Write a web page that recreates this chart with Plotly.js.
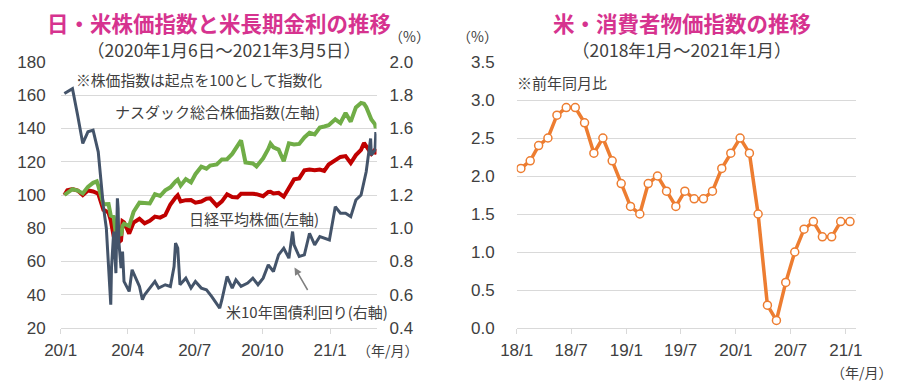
<!DOCTYPE html>
<html>
<head>
<meta charset="utf-8">
<script src="https://cdn.plot.ly/plotly-3.0.1.min.js"></script>
<style>
html,body{margin:0;padding:0;background:#fff;}
#chart{width:900px;height:390px;}
</style>
</head>
<body>
<div id="chart"></div>
<script>
// ---- Left chart data ----
const stockDates = ['2020-01-06','2020-01-10','2020-01-17','2020-01-24','2020-01-31','2020-02-07','2020-02-14','2020-02-19','2020-02-21','2020-02-28','2020-03-06','2020-03-09','2020-03-13','2020-03-16','2020-03-19','2020-03-23','2020-03-25','2020-03-27','2020-04-03','2020-04-09','2020-04-17','2020-04-24','2020-05-01','2020-05-08','2020-05-15','2020-05-22','2020-05-29','2020-06-05','2020-06-08','2020-06-12','2020-06-19','2020-06-26','2020-07-02','2020-07-10','2020-07-17','2020-07-22','2020-07-31','2020-08-07','2020-08-14','2020-08-21','2020-08-28','2020-09-02','2020-09-08','2020-09-11','2020-09-18','2020-09-23','2020-10-02','2020-10-09','2020-10-12','2020-10-16','2020-10-23','2020-10-30','2020-11-06','2020-11-13','2020-11-20','2020-11-27','2020-12-04','2020-12-11','2020-12-18','2020-12-24','2020-12-30','2021-01-08','2021-01-15','2021-01-22','2021-01-29','2021-02-05','2021-02-12','2021-02-16','2021-02-19','2021-02-26','2021-03-03','2021-03-04','2021-03-05'];
const nasdaq = [100,101.2,103.5,102.7,100.9,104.9,107.3,108.2,105.6,94.4,94.5,87.6,86.8,76.1,78.2,75.6,81.4,82.7,81.3,89.9,95.4,95.2,94.9,100.5,99.4,102.8,104.6,108.2,109.3,105.7,109.6,107.6,112.5,117.0,115.8,117.7,118.4,121.4,121.5,124.7,128.9,132.9,119.6,119.6,119.0,117.2,122.1,127.7,130.9,128.7,127.3,120.3,131.1,130.4,130.7,134.6,137.4,136.4,140.6,141.2,142.0,145.5,143.3,149.3,144.1,152.7,155.4,154.9,152.9,145.4,142.5,140.3,142.4];
const nikkei = [100,102.8,103.6,102.7,100.0,102.7,102.1,100.8,100.8,91.1,89.4,84.9,75.1,73.3,71.3,72.8,84.2,83.6,76.8,83.4,85.7,83.0,84.5,87.0,86.4,87.9,94.3,98.5,99.9,96.1,96.9,97.0,95.4,96.1,97.8,98.0,93.6,96.2,100.4,98.8,98.6,100.7,100.8,100.9,100.7,100.5,99.3,101.8,101.9,100.9,101.3,99.0,104.8,109.4,110.0,114.8,115.3,114.9,115.3,114.5,118.3,121.3,122.9,123.4,119.2,124.0,127.2,131.3,129.4,124.8,127.4,125.5,124.4];
const yieldDates = ['2020-01-06','2020-01-10','2020-01-17','2020-01-24','2020-01-31','2020-02-07','2020-02-14','2020-02-21','2020-02-28','2020-03-03','2020-03-06','2020-03-09','2020-03-10','2020-03-12','2020-03-13','2020-03-16','2020-03-18','2020-03-19','2020-03-20','2020-03-23','2020-03-25','2020-03-27','2020-04-03','2020-04-07','2020-04-09','2020-04-17','2020-04-21','2020-04-24','2020-05-01','2020-05-08','2020-05-13','2020-05-22','2020-05-29','2020-06-03','2020-06-05','2020-06-08','2020-06-11','2020-06-19','2020-06-26','2020-07-02','2020-07-10','2020-07-17','2020-07-24','2020-07-31','2020-08-04','2020-08-07','2020-08-14','2020-08-21','2020-08-26','2020-09-02','2020-09-11','2020-09-18','2020-09-25','2020-10-02','2020-10-09','2020-10-16','2020-10-23','2020-10-30','2020-11-06','2020-11-11','2020-11-13','2020-11-20','2020-11-27','2020-12-04','2020-12-11','2020-12-18','2020-12-24','2020-12-31','2021-01-08','2021-01-15','2021-01-22','2021-01-29','2021-02-05','2021-02-12','2021-02-19','2021-02-25','2021-02-26','2021-03-03','2021-03-04','2021-03-05'];
const yield10y = [1.81,1.82,1.84,1.68,1.51,1.58,1.59,1.46,1.13,1.00,0.74,0.54,0.76,0.88,0.98,0.73,1.18,1.12,0.92,0.76,0.86,0.68,0.62,0.75,0.73,0.65,0.57,0.60,0.64,0.68,0.64,0.66,0.65,0.77,0.91,0.88,0.66,0.70,0.64,0.68,0.64,0.63,0.59,0.55,0.52,0.57,0.71,0.64,0.69,0.65,0.67,0.70,0.66,0.70,0.78,0.74,0.84,0.88,0.82,0.98,0.90,0.83,0.84,0.97,0.90,0.95,0.94,0.93,1.13,1.09,1.09,1.07,1.17,1.20,1.34,1.54,1.44,1.47,1.57,1.57];
const leftTickVals = ['2020-01-01','2020-04-01','2020-07-01','2020-10-01','2021-01-01'];
const leftTickText = ['20/1','20/4','20/7','20/10','21/1'];

// ---- Right chart data ----
const cpiMonths = ['2018-01-15','2018-02-15','2018-03-15','2018-04-15','2018-05-15','2018-06-15','2018-07-15','2018-08-15','2018-09-15','2018-10-15','2018-11-15','2018-12-15','2019-01-15','2019-02-15','2019-03-15','2019-04-15','2019-05-15','2019-06-15','2019-07-15','2019-08-15','2019-09-15','2019-10-15','2019-11-15','2019-12-15','2020-01-15','2020-02-15','2020-03-15','2020-04-15','2020-05-15','2020-06-15','2020-07-15','2020-08-15','2020-09-15','2020-10-15','2020-11-15','2020-12-15','2021-01-15'];
const cpi = [2.1,2.2,2.4,2.5,2.8,2.9,2.9,2.7,2.3,2.5,2.2,1.9,1.6,1.5,1.9,2.0,1.8,1.6,1.8,1.7,1.7,1.8,2.1,2.3,2.5,2.3,1.5,0.3,0.1,0.6,1.0,1.3,1.4,1.2,1.2,1.4,1.4];
const rightTickVals = ['2018-01-01','2018-07-01','2019-01-01','2019-07-01','2020-01-01','2020-07-01','2021-01-01'];
const rightTickText = ['18/1','18/7','19/1','19/7','20/1','20/7','21/1'];

const W = 900, H = 390;
const px = v => v / W;
const py = v => 1 - v / H;
const numFont = {family: 'Liberation Sans, Arial, sans-serif', size: 17, color: '#404040'};
const jpFont = 'Noto Sans CJK JP, sans-serif';
const gridC = '#d9d9d9';

const traces = [
  {x: stockDates, y: nikkei, type: 'scatter', mode: 'lines', xaxis: 'x', yaxis: 'y',
   line: {color: '#C00000', width: 4}},
  {x: stockDates, y: nasdaq, type: 'scatter', mode: 'lines', xaxis: 'x', yaxis: 'y',
   line: {color: '#70AD47', width: 4}},
  {x: yieldDates, y: yield10y, type: 'scatter', mode: 'lines', xaxis: 'x', yaxis: 'y2',
   line: {color: '#44546A', width: 3}},
  {x: cpiMonths, y: cpi, type: 'scatter', mode: 'lines+markers', xaxis: 'x2', yaxis: 'y3',
   line: {color: '#ED7D31', width: 3.5},
   marker: {symbol: 'circle', size: 8, color: '#ffffff', line: {color: '#ED7D31', width: 1.5}}}
];

const ann = (text, x, y, size, opts) => Object.assign({
  text: text, xref: 'paper', yref: 'paper', x: px(x), y: py(y),
  xanchor: 'center', yanchor: 'middle', showarrow: false,
  font: {family: jpFont, size: size, color: '#404040'}
}, opts || {});

const layout = {
  width: W, height: H,
  margin: {l: 0, r: 0, t: 0, b: 0},
  paper_bgcolor: '#ffffff', plot_bgcolor: '#ffffff',
  showlegend: false, hovermode: false,
  xaxis: {
    type: 'date', domain: [px(60.7), px(376.5)], range: ['2020-01-01', '2021-03-05'],
    anchor: 'y', tickvals: leftTickVals, ticktext: leftTickText,
    showgrid: false, zeroline: false, showline: true, linecolor: gridC, linewidth: 1,
    ticks: 'outside', ticklen: 5, tickcolor: gridC, tickwidth: 1,
    tickfont: numFont, ticklabelstandoff: 2
  },
  yaxis: {
    domain: [py(328), py(62)], range: [20, 180], dtick: 20, tick0: 20, anchor: 'x',
    showgrid: true, gridcolor: gridC, gridwidth: 1, zeroline: false, showline: false,
    ticks: '', tickfont: numFont, ticklabelstandoff: 14
  },
  yaxis2: {
    overlaying: 'y', side: 'right', anchor: 'x', range: [0.4, 2.0], dtick: 0.2, tick0: 0.4,
    tickformat: '.1f', showgrid: false, zeroline: false, showline: false,
    ticks: '', tickfont: numFont, ticklabelstandoff: 12
  },
  xaxis2: {
    type: 'date', domain: [px(516.7), px(855.7)], range: ['2018-01-01', '2021-02-03'],
    anchor: 'y3', tickvals: rightTickVals, ticktext: rightTickText,
    showgrid: false, zeroline: false, showline: true, linecolor: gridC, linewidth: 1,
    ticks: 'outside', ticklen: 5, tickcolor: gridC, tickwidth: 1,
    tickfont: numFont, ticklabelstandoff: 2
  },
  yaxis3: {
    domain: [py(328), py(62)], range: [0, 3.5], dtick: 0.5, tick0: 0, anchor: 'x2',
    tickformat: '.1f', showgrid: true, gridcolor: gridC, gridwidth: 1, zeroline: false,
    showline: false, ticks: '', tickfont: numFont, ticklabelstandoff: 21
  },
  annotations: [
    ann('<b>日・米株価指数と米長期金利の推移</b>', 219, 22, 21.5, {font: {family: jpFont, size: 21.5, color: '#D6338F'}}),
    ann('（2020年1月6日～2021年3月5日）', 224, 50, 17.5),
    ann('（%）', 409, 36, 14),
    ann('※株価指数は起点を100として指数化', 199, 80, 14.8),
    ann('ナスダック総合株価指数(左軸)', 217, 112, 15),
    ann('日経平均株価(左軸)', 254, 218, 15),
    ann('米10年国債利回り(右軸)', 307, 311, 15),
    ann('（年/月）', 388, 350, 14),
    {text: '', xref: 'paper', yref: 'paper', axref: 'pixel', ayref: 'pixel',
     x: px(294.5), y: py(267.5), ax: 14, ay: 24, showarrow: true,
     arrowhead: 2, arrowsize: 1, arrowwidth: 1.5, arrowcolor: '#808080', standoff: 0},
    ann('<b>米・消費者物価指数の推移</b>', 682, 22, 21.5, {font: {family: jpFont, size: 21.5, color: '#D6338F'}}),
    ann('（2018年1月～2021年1月）', 682, 50, 17.5),
    ann('（%）', 477, 36, 14),
    ann('※前年同月比', 562, 82, 15),
    ann('（年/月）', 862, 372, 14)
  ]
};

Plotly.newPlot('chart', traces, layout, {displayModeBar: false, staticPlot: true});
</script>
</body>
</html>
